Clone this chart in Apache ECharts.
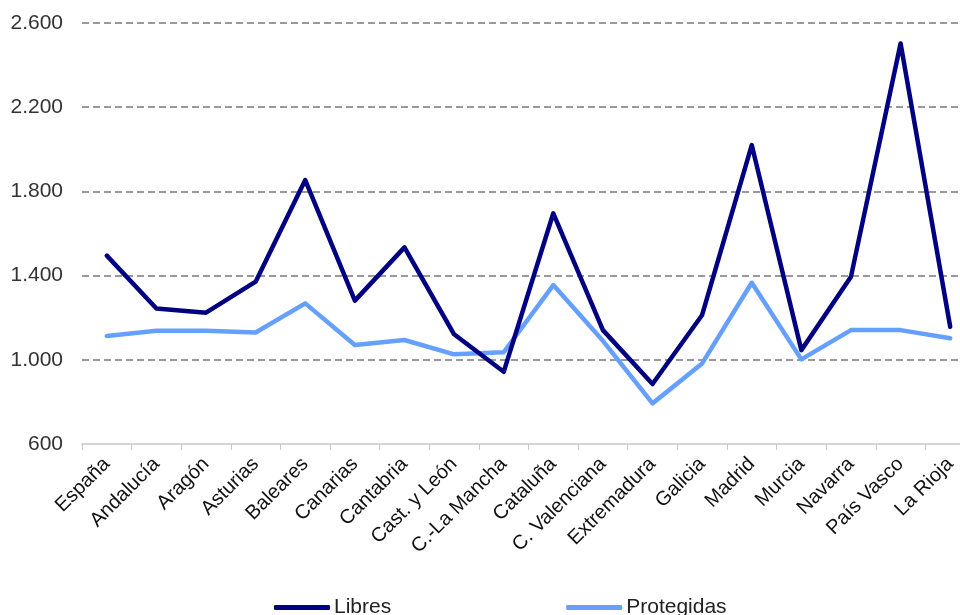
<!DOCTYPE html>
<html>
<head>
<meta charset="utf-8">
<script src="https://cdn.jsdelivr.net/npm/echarts@6/dist/echarts.min.js"></script>
<style>html,body{margin:0;padding:0;background:#fff}#c{width:960px;height:615px}</style>
</head>
<body>
<div id="c"></div>
<script>
const categories = ['España','Andalucía','Aragón','Asturias','Baleares','Canarias','Cantabria','Cast. y León','C.-La Mancha','Cataluña','C. Valenciana','Extremadura','Galicia','Madrid','Murcia','Navarra','País Vasco','La Rioja'];
const libres = [1495,1244,1224,1371,1854,1281,1534,1121,943,1696,1141,885,1213,2020,1046,1395,2503,1157];
const protegidas = [1113,1138,1138,1130,1268,1070,1094,1026,1036,1355,1090,793,983,1366,1002,1141,1141,1102];
const yTicks = {min: 600, max: 2600, interval: 400};

const chart = echarts.init(document.getElementById('c'));
const font = 'Liberation Sans, Arial, Helvetica, sans-serif';
chart.setOption({
  animation: false,
  backgroundColor: '#fff',
  grid: {left: 82, top: 23, width: 893, bottom: 171, containLabel: false, outerBoundsMode: 'none'},
  legend: {
    top: 597, left: 274, padding: 0,
    itemWidth: 56, itemHeight: 5, itemGap: 175,
    icon: 'roundRect',
    textStyle: {fontFamily: font, fontSize: 21, color: '#222', padding: [0,0,0,-1]},
    data: ['Libres','Protegidas']
  },
  xAxis: {
    type: 'category',
    data: categories,
    boundaryGap: true,
    axisLine: {show: true, lineStyle: {color: '#c8c8c8', width: 1.5}},
    axisTick: {show: true, length: 6, lineStyle: {color: '#c8c8c8', width: 1}},
    axisLabel: {rotate: 45, interval: 0, margin: 17, fontFamily: font, fontSize: 20, color: '#111'},
    splitLine: {show: false}
  },
  yAxis: {
    type: 'value',
    min: yTicks.min, max: yTicks.max, interval: yTicks.interval,
    axisLine: {show: false},
    axisTick: {show: false},
    axisLabel: {
      margin: 19, fontFamily: font, fontSize: 21, color: '#333',
      formatter: v => String(v).replace(/\B(?=(\d{3})+(?!\d))/g, '.')
    },
    splitLine: {show: true, showMinLine: false, lineStyle: {color: '#999', width: 2, type: [7,4]}}
  },
  series: [
    {name: 'Libres', type: 'line', data: libres, symbol: 'none', lineStyle: {color: '#000080', width: 4.5, cap: 'round', join: 'round'}, itemStyle: {color: '#000080'}, z: 3},
    {name: 'Protegidas', type: 'line', data: protegidas, symbol: 'none', lineStyle: {color: '#66a0ff', width: 4.5, cap: 'round', join: 'round'}, itemStyle: {color: '#66a0ff'}, z: 2}
  ]
});
</script>
</body>
</html>
